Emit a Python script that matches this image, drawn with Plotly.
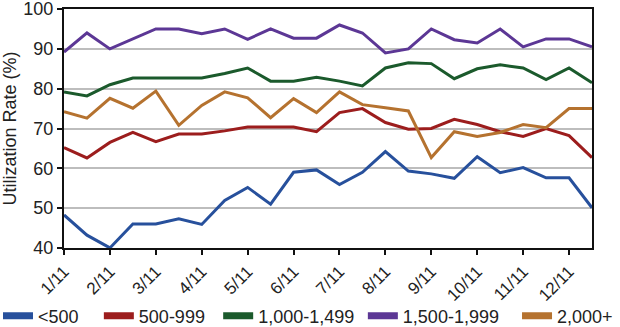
import plotly.graph_objects as go

# Month tick labels (two readings per month)
months = ["1/11", "2/11", "3/11", "4/11", "5/11", "6/11",
          "7/11", "8/11", "9/11", "10/11", "11/11", "12/11"]
periods = [f"{m} {h}" for m in months for h in ("a", "b")]

y_ticks = [40, 50, 60, 70, 80, 90, 100]

series_names = ["<500", "500-999", "1,000-1,499", "1,500-1,999", "2,000+"]

under_500 = [48.3, 43.2, 40.0, 46.0, 46.0, 47.3, 45.9, 51.9, 55.2, 51.0, 59.0, 59.6,
             55.9, 59.0, 64.2, 59.3, 58.6, 57.5, 62.9, 58.9, 60.2, 57.6, 57.6, 50.1]
r500_999 = [65.2, 62.6, 66.5, 69.0, 66.7, 68.6, 68.6, 69.4, 70.4, 70.4, 70.4, 69.2,
            74.0, 75.0, 71.5, 69.8, 70.0, 72.3, 71.0, 69.2, 68.0, 70.0, 68.2, 62.7]
r1000_1499 = [79.2, 78.2, 81.0, 82.7, 82.7, 82.7, 82.7, 83.8, 85.2, 81.9, 81.9, 82.9,
              81.9, 80.7, 85.2, 86.5, 86.3, 82.5, 85.0, 86.0, 85.2, 82.3, 85.2, 81.5]
r1500_1999 = [89.2, 94.0, 90.0, 92.5, 95.0, 95.0, 93.8, 95.0, 92.4, 95.0, 92.7, 92.7,
              96.0, 94.0, 89.0, 90.0, 95.0, 92.3, 91.5, 95.0, 90.5, 92.5, 92.5, 90.5]
r2000_plus = [74.2, 72.6, 77.6, 75.1, 79.4, 70.8, 75.8, 79.2, 77.7, 72.7, 77.5, 74.0,
              79.2, 76.0, 75.2, 74.4, 62.7, 69.2, 68.0, 69.0, 71.0, 70.2, 75.0, 75.0]

values = [under_500, r500_999, r1000_1499, r1500_1999, r2000_plus]
colors = ["#27509c", "#9c1d1d", "#1b5a2c", "#5c3795", "#b5722f"]
legend_x = [-0.125, 0.066, 0.292, 0.566, 0.858]

FONT = "Liberation Sans, Arial, Helvetica, sans-serif"
fig = go.Figure()

for i, (name, ys, c) in enumerate(zip(series_names, values, colors)):
    fig.add_trace(go.Scatter(x=periods, y=ys, mode="lines", name=name,
                             line=dict(color=c, width=3), showlegend=False,
                             legendgroup=name))
for i, (name, c) in enumerate(zip(series_names, colors)):
    lg = "legend" if i == 0 else f"legend{i+1}"
    fig.add_trace(go.Scatter(x=[None], y=[None], mode="lines", name=name,
                             line=dict(color=c, width=7), showlegend=True,
                             legendgroup=name, legend=lg))

legend_common = dict(orientation="h", yanchor="middle", y=-0.285, xanchor="left",
                     font=dict(family=FONT, size=18, color="#222"),
                     bgcolor="rgba(0,0,0,0)", borderwidth=0)
layout_legends = {}
for i, lx in enumerate(legend_x):
    key = "legend" if i == 0 else f"legend{i+1}"
    layout_legends[key] = dict(legend_common, x=lx)

fig.update_layout(
    width=620, height=327,
    margin=dict(l=64, r=28, t=9, b=79, autoexpand=False),
    paper_bgcolor="white", plot_bgcolor="white",
    font=dict(family=FONT, size=18, color="#222"),
    xaxis=dict(type="category", range=[0, 23], tickmode="array",
               tickvals=periods[::2], ticktext=months, tickangle=-45,
               ticks="outside", ticklen=5, tickwidth=2, tickcolor="#111",
               showline=True, linecolor="#111", linewidth=2, mirror=True,
               showgrid=False, zeroline=False,
               tickfont=dict(family=FONT, size=17, color="#222")),
    yaxis=dict(range=[39.98, 100.02], tickmode="array", tickvals=y_ticks,
               ticktext=[str(v) for v in y_ticks],
               ticks="outside", ticklen=5, tickwidth=2, tickcolor="#111",
               showline=True, linecolor="#111", linewidth=2, mirror=True,
               showgrid=True, gridcolor="#bdbdbd", gridwidth=1.5, zeroline=False,
               ticklabeloverflow="allow",
               tickfont=dict(family=FONT, size=18, color="#222"),
               title=dict(text="Utilization Rate (%)", standoff=8,
                          font=dict(family=FONT, size=18, color="#222"))),
    **layout_legends,
)

fig.write_html("out.html")
